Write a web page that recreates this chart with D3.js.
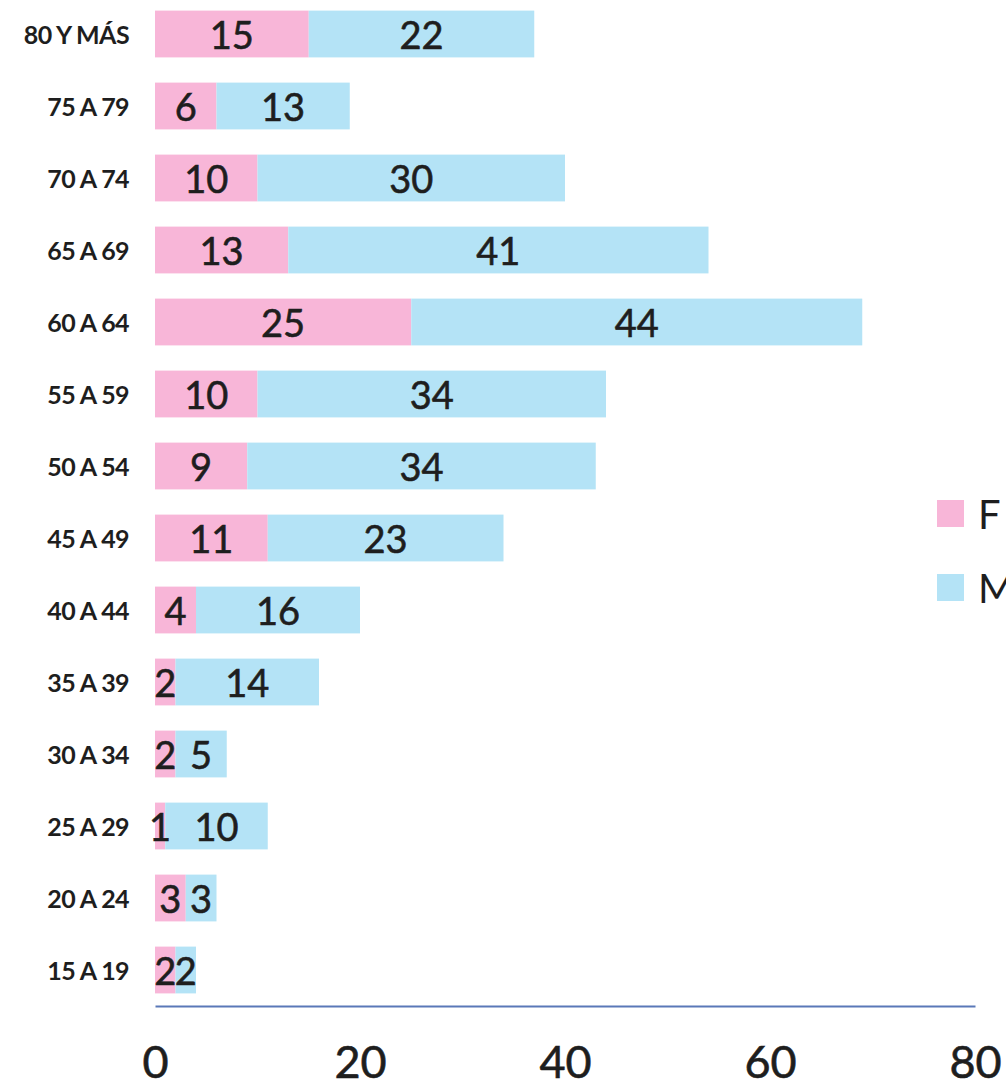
<!DOCTYPE html>
<html><head><meta charset="utf-8">
<script src="https://cdn.jsdelivr.net/npm/d3@7"></script>
<style>html,body{margin:0;padding:0;background:#fff;}svg{display:block;}</style>
</head><body>
<script>
const categories = ["80 Y MÁS","75 A 79","70 A 74","65 A 69","60 A 64","55 A 59","50 A 54","45 A 49","40 A 44","35 A 39","30 A 34","25 A 29","20 A 24","15 A 19"];
const femenino = [15,6,10,13,25,10,9,11,4,2,2,1,3,2];
const masculino = [22,13,30,41,44,34,34,23,16,14,5,10,3,2];
const seriesNames = ["F","M"];
const seriesColors = ["#f8b6d8","#b4e3f6"];
const xTicks = [0,20,40,60,80];

const W = 1006, H = 1092;
const svg = d3.select("body").append("svg").attr("width", W).attr("height", H);

const x = d3.scaleLinear().domain([0,80]).range([155,975]);
const y = d3.scaleBand().domain(categories).range([-2,1006]).paddingInner(0.35).paddingOuter(0.175);

const rows = categories.map((c,i)=>({cat:c, vals:[femenino[i], masculino[i]]}));
const stacked = [];
rows.forEach(r=>{
  let acc = 0;
  r.vals.forEach((v,k)=>{
    stacked.push({cat:r.cat, k, x0:acc, x1:acc+v, v});
    acc += v;
  });
});

svg.append("g").selectAll("rect").data(stacked).join("rect")
  .attr("x", d=>x(d.x0)).attr("width", d=>x(d.x1)-x(d.x0))
  .attr("y", d=>y(d.cat)).attr("height", y.bandwidth())
  .attr("fill", d=>seriesColors[d.k]);

svg.append("g").selectAll("text").data(stacked).join("text")
  .attr("x", d=>(x(d.x0)+x(d.x1))/2)
  .attr("y", d=>y(d.cat)+y.bandwidth()/2)
  .attr("text-anchor","middle").attr("dominant-baseline","central")
  .attr("font-family","Lato, sans-serif").attr("font-size",38)
  .attr("fill","#1e1e1e").attr("stroke","#1e1e1e").attr("stroke-width",0.6)
  .text(d=>d.v);

// category labels
svg.append("g").selectAll("text").data(categories).join("text")
  .attr("x", 129).attr("y", d=>y(d)+y.bandwidth()/2)
  .attr("text-anchor","end").attr("dominant-baseline","central")
  .attr("font-family","Lato, sans-serif").attr("font-weight","bold").attr("font-size",25)
  .attr("letter-spacing","-0.6")
  .attr("fill","#1e1e1e").text(d=>d);

// x axis
const xAxis = d3.axisBottom(x).tickValues(xTicks).tickSize(0).tickPadding(40);
const gx = svg.append("g").attr("transform","translate(0,1006)").call(xAxis);
gx.select(".domain").attr("stroke","#5a78b8").attr("stroke-width",2);
gx.selectAll("text").attr("font-family","Lato, sans-serif").attr("font-size",45)
  .attr("fill","#1e1e1e").attr("stroke","#1e1e1e").attr("stroke-width",0.6);

// legend
const lg = svg.append("g");
seriesNames.forEach((n,i)=>{
  lg.append("rect").attr("x",937).attr("y",500+i*74).attr("width",27).attr("height",27).attr("fill",seriesColors[i]);
  lg.append("text").attr("x",978).attr("y",514+i*74).attr("dominant-baseline","central")
    .attr("font-family","Lato, sans-serif").attr("font-size",40).attr("fill","#1e1e1e").text(n);
});
</script>
</body></html>
